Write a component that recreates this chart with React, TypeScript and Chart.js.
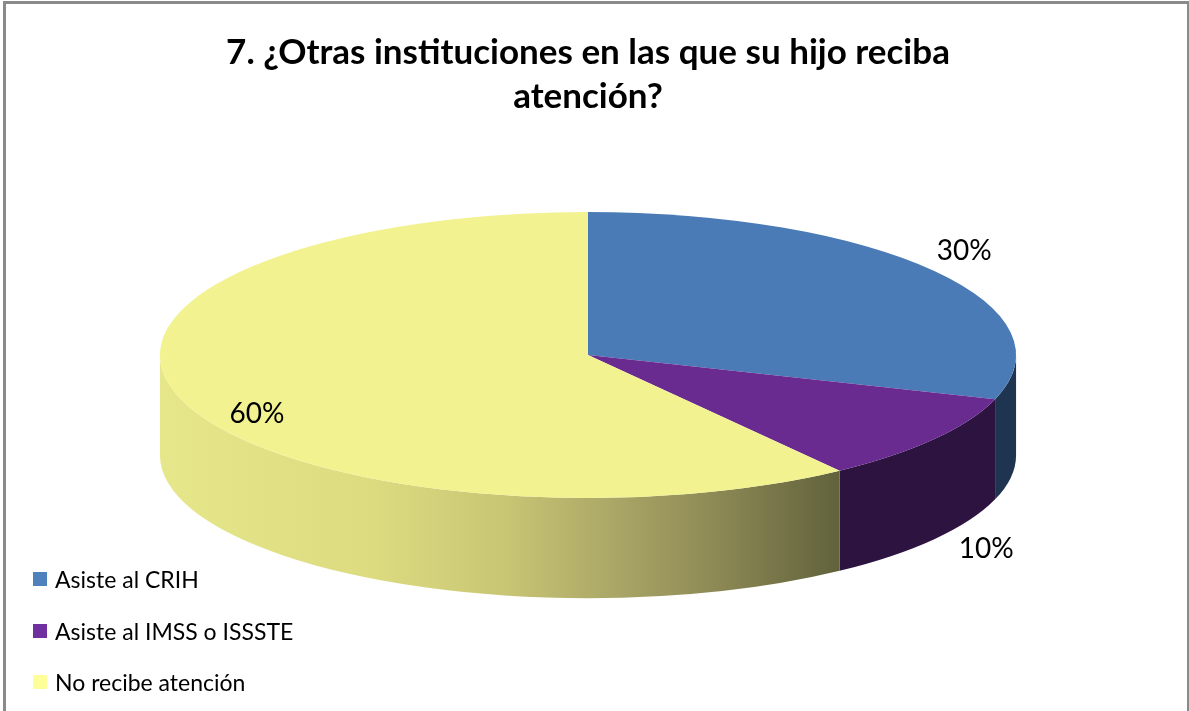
import React, { useEffect, useRef } from 'react';
import { Chart, registerables } from 'chart.js';

Chart.register(...registerables);

// ---- data ----
const categories = ['Asiste al CRIH', 'Asiste al IMSS o ISSSTE', 'No recibe atención'];
const values = [30, 10, 60];
const valueLabels = ['30%', '10%', '60%'];
const titleLines = ['7. ¿Otras instituciones en las que su hijo reciba', 'atención?'];

// ---- styles ----
const topColors = ['#4A7BB6', '#6A2B90', '#F2F291'];
const sideColors = ['#1F3450', '#2C1340', ''];
const legendColors = ['#4F81BD', '#7030A0', '#FFFF99'];
const yellowSideStops: [number, string][] = [
  [0, '#E6E68A'],
  [0.25, '#DCDB80'],
  [0.4, '#C9C674'],
  [0.52, '#ADA968'],
  [0.65, '#8D8955'],
  [0.8, '#5F603B'],
  [1, '#5A5A38'],
];
const labelDx = [30, 52, 76];
const labelDy = [-20, 110, 15];

const FONT = "Lato, 'Liberation Sans', sans-serif";
const RX_FRAC = 0.364; // ellipse half-width relative to chart area width
const TILT = 0.334; // ry / rx
const DEPTH = 0.234; // depth / rx

function geom(chart: any) {
  const arc = chart.getDatasetMeta(0).data[0];
  const rx = chart.chartArea.width * RX_FRAC;
  return { cx: arc.x, cy: arc.y, r: arc.outerRadius, rx, ry: rx * TILT, depth: rx * DEPTH };
}

const pie3d = {
  id: 'pie3d',
  beforeDatasetsDraw(chart: any) {
    const arcs = chart.getDatasetMeta(0).data;
    if (!arcs.length) return;
    const { cx, cy, r, rx, ry, depth } = geom(chart);
    const ctx = chart.ctx as CanvasRenderingContext2D;
    ctx.save();
    arcs.forEach((arc: any, i: number) => {
      const a0 = Math.max(arc.startAngle, 0);
      const a1 = Math.min(arc.endAngle, Math.PI);
      if (a1 <= a0) return;
      ctx.beginPath();
      ctx.ellipse(cx, cy, rx, ry, 0, a0, a1, false);
      ctx.ellipse(cx, cy + depth, rx, ry, 0, a1, a0, true);
      ctx.closePath();
      if (sideColors[i]) {
        ctx.fillStyle = sideColors[i];
      } else {
        const g = ctx.createLinearGradient(cx - rx, 0, cx + rx, 0);
        yellowSideStops.forEach(([o, c]) => g.addColorStop(o, c));
        ctx.fillStyle = g;
      }
      ctx.fill();
    });
    ctx.restore();
    ctx.save();
    ctx.translate(cx, cy);
    ctx.scale(rx / r, ry / r);
    ctx.translate(-cx, -cy);
  },
  afterDatasetsDraw(chart: any) {
    const ctx = chart.ctx as CanvasRenderingContext2D;
    ctx.restore();
    const arcs = chart.getDatasetMeta(0).data;
    if (!arcs.length) return;
    const { cx, cy, rx, ry } = geom(chart);
    ctx.save();
    ctx.font = `28px ${FONT}`;
    ctx.fillStyle = '#000';
    ctx.textAlign = 'center';
    ctx.textBaseline = 'middle';
    arcs.forEach((arc: any, i: number) => {
      const mid = (arc.startAngle + arc.endAngle) / 2;
      const x = cx + rx * Math.cos(mid) + labelDx[i];
      const y = cy + ry * Math.sin(mid) + labelDy[i];
      ctx.fillText(valueLabels[i], x, y);
    });
    ctx.restore();
  },
};

export default function App() {
  const canvasRef = useRef<HTMLCanvasElement | null>(null);

  useEffect(() => {
    document.body.style.margin = '0';
    const canvas = canvasRef.current;
    if (!canvas) return;
    const chart = new Chart(canvas, {
      type: 'pie',
      data: {
        labels: categories,
        datasets: [
          {
            data: values,
            backgroundColor: topColors,
            borderWidth: 0,
            clip: false,
          } as any,
        ],
      },
      options: {
        responsive: false,
        animation: false,
        events: [],
        layout: { padding: { top: 0, bottom: 120, left: 0, right: 13 } },
        plugins: {
          title: {
            display: true,
            text: titleLines,
            color: '#000',
            font: { family: FONT, size: 35, weight: 'bold', lineHeight: '44px' },
            padding: { top: 31, bottom: 0 },
          },
          legend: { display: false },
          tooltip: { enabled: false },
        },
      } as any,
      plugins: [pie3d],
    });
    return () => chart.destroy();
  }, []);

  return (
    <div style={{ position: 'relative', width: 1189, height: 711, background: '#fff', overflow: 'hidden' }}>
      <div
        style={{
          position: 'absolute',
          left: 3,
          top: 1,
          width: 1181,
          height: 720,
          borderTop: '3px solid #8A8A8A',
          borderLeft: '3px solid #8A8A8A',
          borderRight: '2px solid #8A8A8A',
        }}
      />
      <canvas ref={canvasRef} width={1189} height={711} style={{ position: 'absolute', left: 0, top: 0 }} />
      {categories.map((c, i) => (
        <div
          key={c}
          style={{
            position: 'absolute',
            left: 33,
            top: 567 + i * 51.5,
            height: 24,
            display: 'flex',
            alignItems: 'center',
            fontFamily: FONT,
            fontSize: 23,
            color: '#000',
            whiteSpace: 'nowrap',
          }}
        >
          <span style={{ display: 'inline-block', width: 14, height: 14, background: legendColors[i], marginRight: 8 }} />
          {c}
        </div>
      ))}
    </div>
  );
}
